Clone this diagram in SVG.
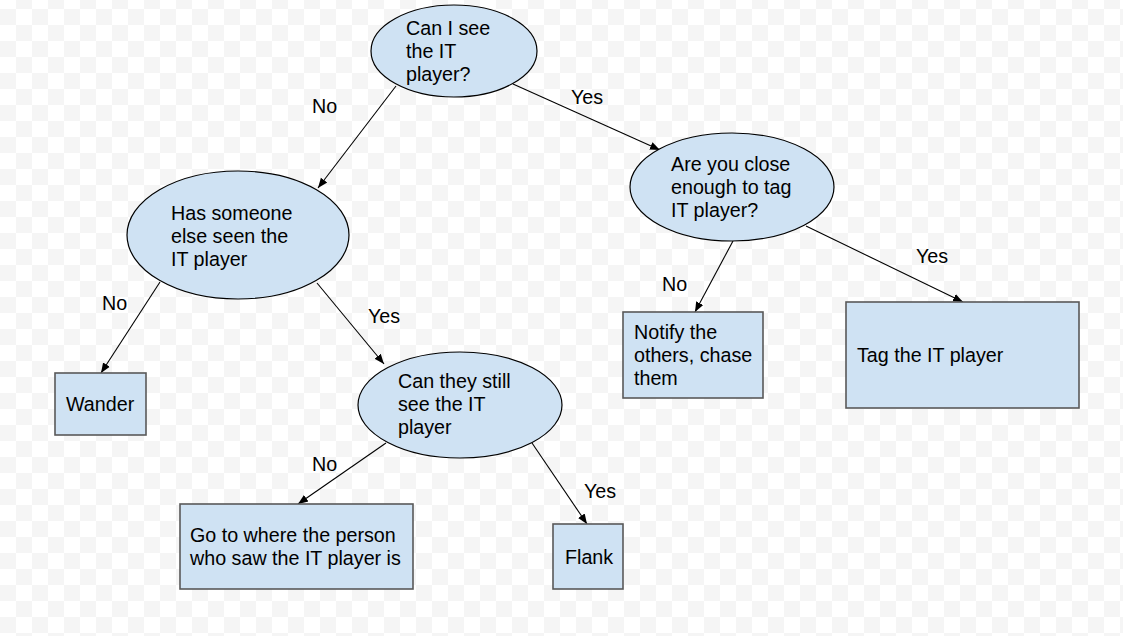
<svg xmlns="http://www.w3.org/2000/svg" width="1123" height="636" viewBox="0 0 1123 636">
<defs>
<pattern id="checker" x="0" y="9" width="32" height="32" patternUnits="userSpaceOnUse">
<rect width="32" height="32" fill="#ffffff"/>
<rect x="0" y="0" width="16" height="16" fill="#f5f5f5"/>
<rect x="16" y="16" width="16" height="16" fill="#f5f5f5"/>
</pattern>
<marker id="arr" viewBox="0 0 10 10" refX="10" refY="5" markerWidth="10" markerHeight="10" markerUnits="userSpaceOnUse" orient="auto">
<path d="M0,1 L10,5 L0,9 Z" fill="#000"/>
</marker>
</defs>
<style>
.ell{fill:#cfe2f3;stroke:#000;stroke-width:1.2}
.box{fill:#cfe2f3;stroke:#595959;stroke-width:1.6}
text{font-family:"Liberation Sans",Arial,sans-serif;font-size:19.7px;fill:#000}
.edge{stroke:#000;stroke-width:1.1;fill:none;marker-end:url(#arr)}
</style>
<rect width="1123" height="636" fill="url(#checker)"/>
<g id="connectors">
<line class="edge" x1="396" y1="86" x2="318" y2="188"/>
<line class="edge" x1="513" y1="84" x2="660" y2="150"/>
<line class="edge" x1="160" y1="282" x2="101" y2="373"/>
<line class="edge" x1="317" y1="283" x2="384" y2="364"/>
<line class="edge" x1="733" y1="241" x2="695" y2="312"/>
<line class="edge" x1="806" y1="226" x2="963" y2="302"/>
<line class="edge" x1="386" y1="443" x2="298" y2="504"/>
<line class="edge" x1="532" y1="443" x2="587" y2="524"/>
<text x="312" y="113">No</text>
<text x="571" y="104">Yes</text>
<text x="102" y="310">No</text>
<text x="368" y="323">Yes</text>
<text x="662" y="291">No</text>
<text x="916" y="263">Yes</text>
<text x="312" y="471">No</text>
<text x="584" y="498">Yes</text>
</g>
<g id="n1">
<ellipse class="ell" cx="454" cy="51" rx="83" ry="46"/>
<text x="406" y="35">Can I see</text>
<text x="406" y="58">the IT</text>
<text x="406" y="81">player?</text>
</g>
<g id="n2">
<ellipse class="ell" cx="732" cy="187" rx="102" ry="54"/>
<text x="671" y="171">Are you close</text>
<text x="671" y="194">enough to tag</text>
<text x="671" y="217">IT player?</text>
</g>
<g id="n3">
<ellipse class="ell" cx="238" cy="235" rx="111" ry="64"/>
<text x="171" y="220">Has someone</text>
<text x="171" y="243">else seen the</text>
<text x="171" y="266">IT player</text>
</g>
<g id="n4">
<ellipse class="ell" cx="460" cy="405" rx="102" ry="53"/>
<text x="398" y="388">Can they still</text>
<text x="398" y="411">see the IT</text>
<text x="398" y="434">player</text>
</g>
<g id="wander">
<rect class="box" x="55" y="373" width="91" height="62"/>
<text x="66" y="411">Wander</text>
</g>
<g id="notify">
<rect class="box" x="623" y="312" width="140" height="86"/>
<text x="634" y="339">Notify the</text>
<text x="634" y="362">others, chase</text>
<text x="634" y="385">them</text>
</g>
<g id="tag">
<rect class="box" x="846" y="302" width="233" height="106"/>
<text x="857" y="362">Tag the IT player</text>
</g>
<g id="goto">
<rect class="box" x="180" y="504" width="233" height="85"/>
<text x="190" y="542">Go to where the person</text>
<text x="190" y="565">who saw the IT player is</text>
</g>
<g id="flank">
<rect class="box" x="553" y="524" width="70" height="65"/>
<text x="565" y="564">Flank</text>
</g>
</svg>
